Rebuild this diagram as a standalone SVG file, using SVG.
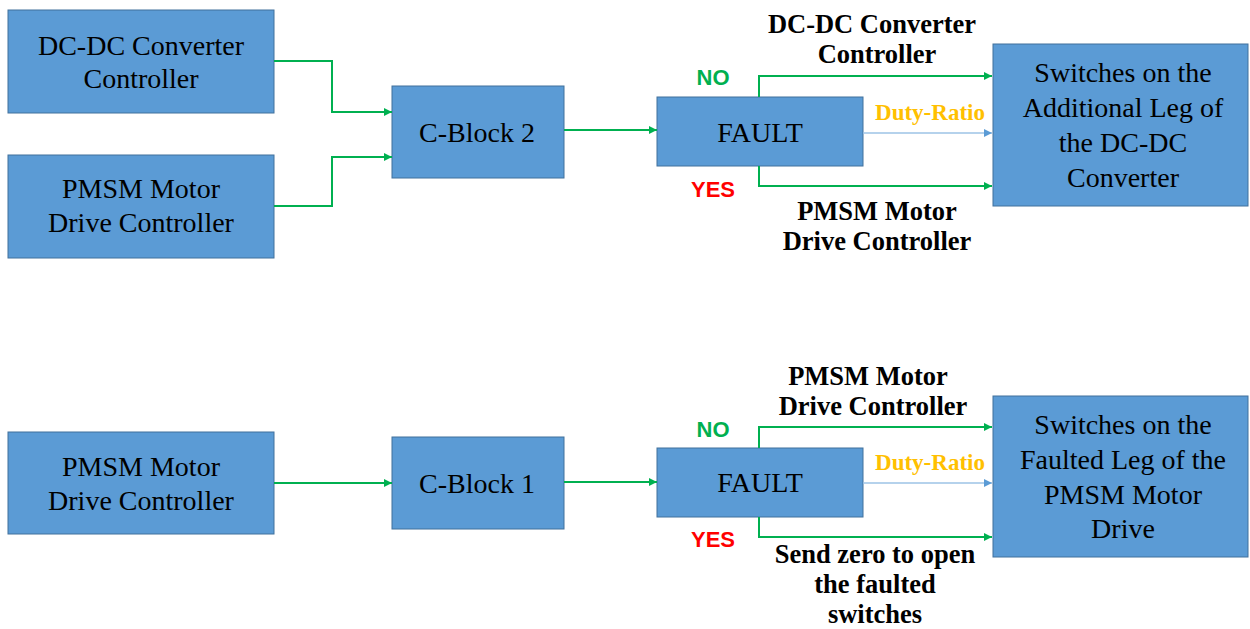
<svg xmlns="http://www.w3.org/2000/svg" width="1250" height="629" viewBox="0 0 1250 629">
  <style>
    .box { fill: #5B9BD5; stroke: #41719C; stroke-width: 1; }
    .bt { font-family: "Liberation Serif", "Times New Roman", serif; font-size: 28px; fill: #000; text-anchor: middle; }
    .lbl { font-family: "Liberation Serif", "Times New Roman", serif; font-size: 26.5px; font-weight: bold; fill: #000; text-anchor: middle; }
    .duty { font-family: "Liberation Serif", "Times New Roman", serif; font-size: 23px; font-weight: bold; fill: #FFC000; text-anchor: middle; }
    .no { font-family: "Liberation Sans", Arial, sans-serif; font-size: 22px; font-weight: bold; fill: #00B050; text-anchor: middle; }
    .yes { font-family: "Liberation Sans", Arial, sans-serif; font-size: 22px; font-weight: bold; fill: #FF0000; text-anchor: middle; }
    .g { fill: none; stroke: #00B050; stroke-width: 2; }
    .b { fill: none; stroke: #9DC3E6; stroke-width: 1.5; }
  </style>
  <defs>
    <marker id="ag" viewBox="0 0 10 10" refX="10" refY="5" markerWidth="9" markerHeight="8" markerUnits="userSpaceOnUse" orient="auto">
      <path d="M0,0 L10,5 L0,10 z" fill="#00B050"/>
    </marker>
    <marker id="ab" viewBox="0 0 10 10" refX="10" refY="5" markerWidth="9" markerHeight="8" markerUnits="userSpaceOnUse" orient="auto">
      <path d="M0,0 L10,5 L0,10 z" fill="#5B9BD5"/>
    </marker>
  </defs>

  <!-- upper chain -->
  <g id="dcdc-ctrl">
    <rect class="box" x="8" y="10" width="266" height="103"/>
    <text class="bt" x="141" y="55">DC-DC Converter</text>
    <text class="bt" x="141" y="88">Controller</text>
  </g>
  <g id="pmsm-ctrl-top">
    <rect class="box" x="8" y="155" width="266" height="103"/>
    <text class="bt" x="141" y="198">PMSM Motor</text>
    <text class="bt" x="141" y="232">Drive Controller</text>
  </g>
  <g id="cblock2">
    <rect class="box" x="392" y="86" width="172" height="92"/>
    <text class="bt" x="477" y="142">C-Block 2</text>
  </g>
  <g id="fault-top">
    <rect class="box" x="657" y="97" width="206" height="69"/>
    <text class="bt" x="760" y="142">FAULT</text>
  </g>
  <g id="switches-top">
    <rect class="box" x="993" y="44" width="255" height="162"/>
    <text class="bt" x="1123" y="82">Switches on the</text>
    <text class="bt" x="1123" y="117">Additional Leg of</text>
    <text class="bt" x="1123" y="152">the DC-DC</text>
    <text class="bt" x="1123" y="187">Converter</text>
  </g>

  <!-- lower chain -->
  <g id="pmsm-ctrl-bottom">
    <rect class="box" x="8" y="432" width="266" height="102"/>
    <text class="bt" x="141" y="476">PMSM Motor</text>
    <text class="bt" x="141" y="510">Drive Controller</text>
  </g>
  <g id="cblock1">
    <rect class="box" x="392" y="437" width="172" height="92"/>
    <text class="bt" x="477" y="493">C-Block 1</text>
  </g>
  <g id="fault-bottom">
    <rect class="box" x="657" y="448" width="206" height="69"/>
    <text class="bt" x="760" y="492">FAULT</text>
  </g>
  <g id="switches-bottom">
    <rect class="box" x="993" y="396" width="255" height="161"/>
    <text class="bt" x="1123" y="434">Switches on the</text>
    <text class="bt" x="1123" y="469">Faulted Leg of the</text>
    <text class="bt" x="1123" y="504">PMSM Motor</text>
    <text class="bt" x="1123" y="538">Drive</text>
  </g>

  <g id="connectors">
    <path class="g" d="M274,61 H332 V112 H392" marker-end="url(#ag)"/>
    <path class="g" d="M274,206 H332 V157 H392" marker-end="url(#ag)"/>
    <path class="g" d="M564,130 H657" marker-end="url(#ag)"/>
    <path class="g" d="M759,97 V76 H992" marker-end="url(#ag)"/>
    <path class="g" d="M759,166 V186 H992" marker-end="url(#ag)"/>
    <path class="b" d="M863,133 H992" marker-end="url(#ab)"/>

    <path class="g" d="M274,483 H392" marker-end="url(#ag)"/>
    <path class="g" d="M564,482 H657" marker-end="url(#ag)"/>
    <path class="g" d="M759,448 V427 H992" marker-end="url(#ag)"/>
    <path class="g" d="M759,517 V537 H992" marker-end="url(#ag)"/>
    <path class="b" d="M863,483 H992" marker-end="url(#ab)"/>
  </g>

  <g id="labels">
    <text class="lbl" x="872" y="33">DC-DC Converter</text>
    <text class="lbl" x="877" y="63">Controller</text>
    <text class="no" x="713" y="85">NO</text>
    <text class="duty" x="930" y="120">Duty-Ratio</text>
    <text class="yes" x="713" y="197">YES</text>
    <text class="lbl" x="877" y="220">PMSM Motor</text>
    <text class="lbl" x="877" y="250">Drive Controller</text>

    <text class="lbl" x="868" y="385">PMSM Motor</text>
    <text class="lbl" x="873" y="415">Drive Controller</text>
    <text class="no" x="713" y="437">NO</text>
    <text class="duty" x="930" y="470">Duty-Ratio</text>
    <text class="yes" x="713" y="547">YES</text>
    <text class="lbl" x="875" y="563">Send zero to open</text>
    <text class="lbl" x="875" y="593">the faulted</text>
    <text class="lbl" x="875" y="623">switches</text>
  </g>
</svg>
